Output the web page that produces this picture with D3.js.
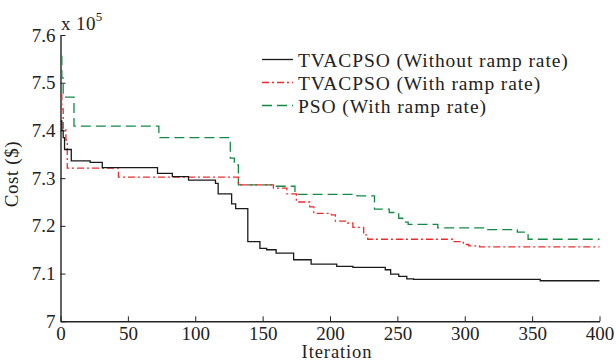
<!DOCTYPE html>
<html>
<head>
<meta charset="utf-8">
<script src="https://cdn.jsdelivr.net/npm/d3@7"></script>
<style>
  body { margin: 0; background: #fff; }
  svg text { font-family: "Liberation Serif", "Times New Roman", serif; fill: #222; }
</style>
</head>
<body>
<div id="chart"></div>
<script>
// cost values are in units of 10^5 $
const iterNoRamp = [0, 1, 2, 3, 8, 22, 31, 72, 83, 95, 115, 117, 127, 130, 139, 148, 153, 160, 173, 186, 205, 217, 241, 245, 251, 257, 262, 356, 400];
const costNoRamp = [7.420, 7.400, 7.385, 7.360, 7.336, 7.333, 7.322, 7.310, 7.303, 7.296, 7.289, 7.267, 7.246, 7.236, 7.167, 7.153, 7.150, 7.143, 7.129, 7.120, 7.115, 7.113, 7.108, 7.099, 7.094, 7.089, 7.088, 7.085, 7.085];

const iterRamp = [0, 1, 2, 4, 5, 43, 132, 158, 168, 175, 185, 188, 201, 204, 213, 217, 225, 228, 291, 299, 303, 311, 400];
const costRamp = [7.475, 7.445, 7.405, 7.380, 7.321, 7.302, 7.286, 7.279, 7.267, 7.250, 7.240, 7.226, 7.223, 7.210, 7.206, 7.197, 7.181, 7.172, 7.167, 7.161, 7.158, 7.156, 7.156];

const iterPso = [0, 1, 2, 10, 73, 126, 129, 132, 158, 174, 220, 233, 244, 251, 254, 258, 280, 317, 339, 347, 400];
const costPso = [7.555, 7.510, 7.470, 7.409, 7.385, 7.342, 7.328, 7.286, 7.283, 7.266, 7.263, 7.235, 7.228, 7.216, 7.208, 7.203, 7.196, 7.192, 7.187, 7.172, 7.172];

const xTicks = [0, 50, 100, 150, 200, 250, 300, 350, 400];
const yTicks = [7.0, 7.1, 7.2, 7.3, 7.4, 7.5, 7.6];
const legendLabels = ['TVACPSO (Without ramp rate)', 'TVACPSO (With ramp rate)', 'PSO (With ramp rate)'];

const width = 616, height = 360;
const margin = {left: 60.5, right: 16.5, top: 35, bottom: 38.7};

const svg = d3.select('#chart').append('svg')
    .attr('width', width)
    .attr('height', height);

const x = d3.scaleLinear().domain([0, 400]).range([margin.left, width - margin.right]);
const y = d3.scaleLinear().domain([7.0, 7.6]).range([height - margin.bottom, margin.top]);

const fmtY = d => d === 7 ? '7' : d3.format('.1f')(d);

// axes (MATLAB style, ticks inside, no box)
const xAxis = d3.axisBottom(x).tickValues(xTicks).tickSizeInner(-5).tickSizeOuter(0).tickPadding(5);
const yAxis = d3.axisLeft(y).tickValues(yTicks).tickSizeInner(-5).tickSizeOuter(0).tickPadding(5).tickFormat(fmtY);

const gx = svg.append('g')
    .attr('transform', `translate(0,${height - margin.bottom})`)
    .call(xAxis);
const gy = svg.append('g')
    .attr('transform', `translate(${margin.left},0)`)
    .call(yAxis);

[gx, gy].forEach(g => {
    g.select('.domain').attr('stroke', '#222').attr('stroke-width', 1.4);
    g.selectAll('.tick line').attr('stroke', '#222').attr('stroke-width', 1);
    g.selectAll('.tick text').attr('font-size', 19).attr('fill', '#222')
        .style('font-family', '"Liberation Serif", serif');
});
gx.selectAll('.tick text').attr('dy', '0.72em');

// lines
const series = [
    {iter: iterNoRamp, cost: costNoRamp, color: '#1a1a1a', dash: null},
    {iter: iterRamp, cost: costRamp, color: '#f02a2a', dash: '7,3,2,3'},
    {iter: iterPso, cost: costPso, color: '#138a44', dash: '10,5'},
];

const line = d3.line()
    .x(d => x(d[0]))
    .y(d => y(d[1]))
    .curve(d3.curveStepAfter);

series.slice().reverse().forEach(s => {
    const pts = s.iter.map((it, i) => [it, s.cost[i]]);
    svg.append('path')
        .datum(pts)
        .attr('fill', 'none')
        .attr('stroke', s.color)
        .attr('stroke-width', 1.3)
        .attr('stroke-dasharray', s.dash)
        .attr('d', line);
});

// labels
svg.append('text')
    .attr('x', 337)
    .attr('y', 357.5)
    .attr('text-anchor', 'middle')
    .attr('font-size', 18.5)
    .attr('letter-spacing', 0.9)
    .text('Iteration');

svg.append('text')
    .attr('transform', 'translate(18,174) rotate(-90)')
    .attr('text-anchor', 'middle')
    .attr('font-size', 19)
    .attr('letter-spacing', 0.6)
    .text('Cost ($)');

const mult = svg.append('text')
    .attr('x', 61)
    .attr('y', 29.5)
    .attr('font-size', 19)
    .attr('letter-spacing', 0.4);
mult.append('tspan').text('x 10');
mult.append('tspan').attr('font-size', 13).attr('dy', -9).text('5');

// legend
const legend = svg.append('g').attr('transform', 'translate(262,0)');
legendLabels.forEach((label, i) => {
    const s = series[i];
    const ly = 59.5 + i * 23;
    legend.append('line')
        .attr('x1', 0).attr('x2', 31)
        .attr('y1', ly).attr('y2', ly)
        .attr('stroke', s.color)
        .attr('stroke-width', 1.3)
        .attr('stroke-dasharray', s.dash);
    legend.append('text')
        .attr('x', 36)
        .attr('y', ly + 7)
        .attr('font-size', 19.5)
        .attr('letter-spacing', 0.9)
        .text(label);
});
</script>
</body>
</html>
